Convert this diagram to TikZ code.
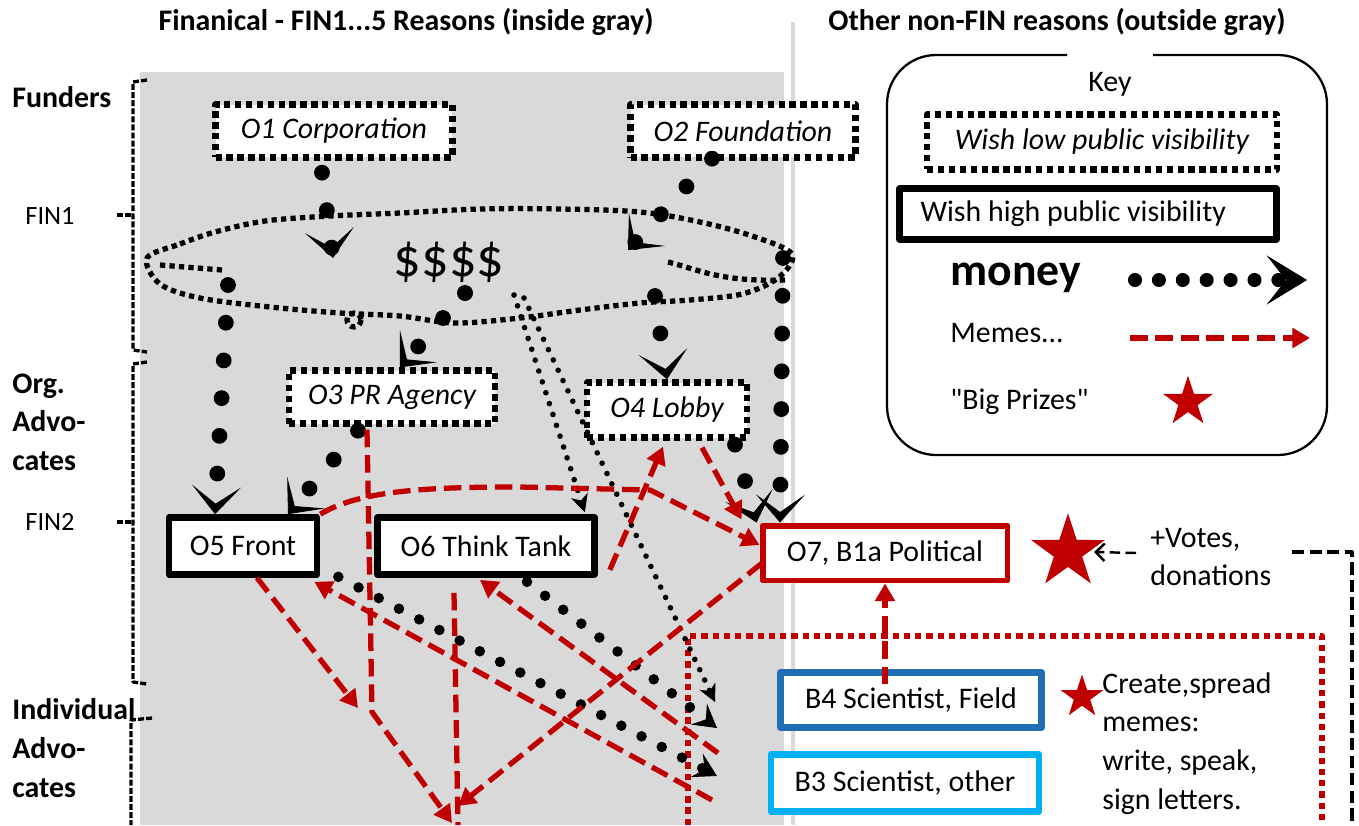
\documentclass[tikz,border=0pt]{standalone}
\usepackage{fontspec}
\setmainfont{Carlito}[Ligatures=TeXOff]
\usetikzlibrary{arrows.meta,shapes.geometric}

\definecolor{memered}{RGB}{192,0,0}
\definecolor{fieldblue}{RGB}{31,110,180}
\definecolor{otherblue}{RGB}{0,176,240}
\definecolor{fingray}{RGB}{217,217,217}
\newcommand{\diagfont}{\fontsize{17}{22}\selectfont}

\begin{document}
\begin{tikzpicture}[
        x=0.02cm, y=-0.02cm,
        line join=round,
        font=\diagfont,
        lowvis/.style = {draw, line width=3.6pt, dash pattern=on 3.6pt off 2.6pt, fill=white, font=\diagfont\itshape, minimum height=1.06cm},
        highvis/.style = {draw, line width=3.8pt, fill=white, minimum height=1.14cm},
        polbox/.style = {draw=memered, line width=3.4pt, fill=white, minimum height=1.1cm},
        scibox/.style = {draw=#1, line width=3.8pt, fill=white, minimum height=1.1cm},
        money/.style = {line width=9pt, line cap=round, dash pattern=on 0pt off 21.5pt, -{Stealth[length=16pt, width=28pt, inset=10pt, line width=0.5pt]}},
        cash/.style = {line width=6pt, line cap=round, dash pattern=on 0pt off 13pt, -{Stealth[length=13pt, width=15pt, inset=5pt, line width=0.5pt]}},
        coins/.style = {line width=3.2pt, line cap=round, dash pattern=on 0pt off 6.5pt, -{Stealth[length=10pt, width=10pt, inset=3pt, line width=0.5pt]}},
        meme/.style = {memered, line width=3pt, dash pattern=on 10pt off 4.5pt, -{Triangle[length=10pt, width=11pt]}},
        cloudline/.style = {line width=3pt, dash pattern=on 3pt off 2.4pt},
        bracketline/.style = {line width=1.9pt, dash pattern=on 3.4pt off 1.2pt},
        prize/.style = {star, star points=5, star point ratio=2.6, fill=memered, inner sep=0pt, minimum size=#1}
    ]

    \fill[white] (0,0) rectangle (1359,825);
    \useasboundingbox (0,0) rectangle (1359,825);
    \fill[fingray] (140,72) rectangle (784,825);
    \draw[fingray, line width=2.6pt] (793,22) -- (793,825);

    % headings
    \node[font=\diagfont\bfseries] (finhead) at (406,22) {Finanical - FIN1...5 Reasons (inside gray)};
    \node[font=\diagfont\bfseries] (otherhead) at (1057,22) {Other non-FIN reasons (outside gray)};

    % left side labels and brackets
    \node[font=\diagfont\bfseries, anchor=west, inner sep=0pt] (funders) at (12,97) {Funders};
    \node[font=\diagfont\bfseries, anchor=west, align=left, inner sep=0pt] (orgadv) at (12,422) {Org.\\Advo-\\cates};
    \node[font=\diagfont\bfseries, anchor=west, align=left, inner sep=0pt] (indadv) at (12,748) {Individual\\Advo-\\cates};
    \node[font=\fontsize{15}{18}\selectfont, inner sep=0pt] (fin1) at (50,216) {FIN1};
    \node[font=\fontsize{15}{18}\selectfont, inner sep=0pt] (fin2) at (50,522) {FIN2};

    \draw[bracketline] (147,80) -- (133,82) -- (133,350) -- (147,352);
    \draw[bracketline] (117,215) -- (133,215);
    \draw[bracketline] (147,362) -- (133,364) -- (133,682) -- (147,684);
    \draw[bracketline] (117,522) -- (133,522);
    \draw[bracketline] (152,718) -- (131,720) -- (131,825);

    % the money cloud
    \draw[cloudline] plot[smooth cycle, tension=0.55] coordinates {(147,258) (180,244) (215,232) (265,221) (330,216) (400,213) (480,209) (560,209) (640,212) (700,222) (752,236) (792,254) (778,278) (742,294) (690,300) (640,303) (580,310) (520,318) (455,323) (400,316) (340,313) (270,307) (200,298) (160,284)};
    \draw[cloudline] (160,265) -- (222,270);
    \draw[cloudline] (668,262) .. controls (700,270) and (720,282) .. (785,280);
    \draw[cloudline] (354,320) circle[radius=7];
    \node[font=\fontsize{31}{36}\selectfont] (dollars) at (449,262) {\$\$\$\$};
    \fill (465,293) circle[radius=8];

    \coordinate (c1) at (333,258);
    \coordinate (c2) at (628,250);
    \coordinate (c3) at (228,285);
    \coordinate (c4) at (443,318);
    \coordinate (c5) at (655,296);
    \coordinate (c6) at (783,258);
    \coordinate (c7) at (514,295);
    \coordinate (c8) at (524,298);

    % meme field of the scientists
    \draw[memered, line width=3.6pt, dash pattern=on 3.6pt off 2.8pt] (688,825) -- (688,636) -- (1322,636) -- (1322,825);

    % organisations
    \node[lowvis, minimum width=4.74cm] (o1) at (334,131) {O1 Corporation};
    \node[lowvis, minimum width=4.5cm] (o2) at (743,131) {O2 Foundation};
    \node[lowvis, minimum width=4.12cm] (o3) at (392,397) {O3 PR Agency};
    \node[lowvis, minimum width=3.2cm, minimum height=1.1cm] (o4) at (667,410) {O4 Lobby};
    \node[highvis, minimum width=2.96cm] (o5) at (243,546) {O5 Front};
    \node[highvis, minimum width=4.34cm] (o6) at (486,546) {O6 Think Tank};
    \node[polbox, minimum width=4.9cm] (o7) at (885,553) {O7, B1a Political};
    \node[scibox=fieldblue, minimum width=5.22cm] (b4) at (911,700) {B4 Scientist, Field};
    \node[scibox=otherblue, minimum width=5.36cm, minimum height=1.14cm] (b3) at (905,783) {B3 Scientist, other};

    \coordinate (b3gap) at (717,776);
    \coordinate (b4gap) at (717,728);
    \coordinate (b4top) at (715,702);
    \coordinate (lowA) at (458,806);
    \coordinate (bendB) at (372,712);
    \coordinate (lowB) at (452,823);
    \coordinate (lowC) at (458,825);
    \coordinate (frontdrop) at (358,708);
    \coordinate (b3left) at (712,800);
    \coordinate (b4left) at (718,753);

    % money
    \draw[money] (o1.south) ++(-12,12) -- (c1);
    \draw[money] (o2.south) ++(-31,-2) -- (c2);
    \draw[money] (c3) -- ([xshift=-0.56cm]o5.north);
    \draw[money] (c4) -- ([xshift=0.16cm]o3.north);
    \draw[money] (c5) -- (o4.north);
    \draw[money] (c6) -- ([xshift=-2.1cm]o7.north);
    \draw[money] (o4.south) ++(68,4) -- ([xshift=-0.06cm]o7.north west);
    \draw[money] (o3.south) ++(-34,4) -- ([xshift=0.9cm]o5.north);
    \draw[cash] (o5.south east) ++(18,-1) -- (b3gap);
    \draw[cash] (o6.south) ++(41,4) -- (b4gap);
    \draw[coins] (c7) -- ([xshift=-0.26cm, yshift=0.04cm]o6.north east);
    \draw[coins] (c8) -- (b4top);

    % memes
    \draw[meme] (o5.north east) .. controls (360,490) and (430,487) .. (520,487) -- (650,490) -- ([yshift=0.16cm]o7.west);
    \draw[meme] (o4.south) ++(35,7) -- ([xshift=-0.36cm, yshift=0.06cm]o7.north west);
    \draw[meme] (o6.south east) ++(12,-8) -- ([xshift=-0.08cm, yshift=-0.12cm]o4.south);
    \draw[meme] (o7.south west) ++(2,-20) -- (lowA);
    \draw[meme] (o3.south) ++(-25,3) -- (bendB) -- (lowB);
    \draw[meme, -] (o6.south) ++(-32,15) -- (lowC);
    \draw[meme] (o5.south) ++(14,0) -- (frontdrop);
    \draw[meme] (b3left) -- ([xshift=-0.12cm, yshift=-0.08cm]o5.south east);
    \draw[meme] (b4left) -- ([xshift=-0.12cm, yshift=-0.04cm]o6.south);
    \draw[meme] (b4.north) ++(-26,15) -- (o7.south);

    % prizes and feedback
    \node[prize=1.55cm] (bigprize) at (1068,552) {};
    \node[anchor=west, align=left, inner sep=0pt] (votes) at (1150,557) {+Votes,\\donations};
    \draw[-{Straight Barb[length=5pt, width=10pt]}, line width=1.4pt, dash pattern=on 6pt off 3pt] (votes.west) ++(-14,-4) -- ([xshift=0.1cm]bigprize.east);
    \draw[line width=1.8pt, dash pattern=on 7pt off 3pt] (1292,552) -- (1352,552) -- (1352,825);
    \node[prize=0.9cm] (smallprize) at (1082,697) {};
    \node[anchor=north west, align=left, inner sep=0pt] (spread) at (1102,672) {Create,spread\\memes:\\write, speak,\\sign letters.};

    % key
    \draw[line width=1.3pt, rounded corners=28pt] (1067,55) -- (887,55) -- (887,455) -- (1327,455) -- (1327,55) -- (1153,55);
    \node (keytitle) at (1110,84) {Key};
    \node[lowvis, minimum width=7cm, minimum height=1.1cm] (keylow) at (1102,142) {Wish low public visibility};
    \node[highvis, text width=6.7cm, align=flush left, inner xsep=0.42cm, minimum height=1.02cm] (keyhigh) at (1088,214) {Wish high public visibility};
    \node[font=\fontsize{26}{30}\selectfont\bfseries, anchor=west, inner sep=0pt] (moneylbl) at (950,278) {money};
    \coordinate (moneyA) at (1135,280);
    \coordinate (moneyB) at (1307,280);
    \draw[money, line width=8pt, dash pattern=on 0pt off 13.6pt, -{Stealth[length=23pt, width=28pt, inset=11pt, line width=0.5pt]}] (moneyA) -- (moneyB);
    \node[anchor=west, inner sep=0pt] (memelbl) at (950,333) {Memes...};
    \coordinate (memeA) at (1130,338);
    \coordinate (memeB) at (1310,338);
    \draw[meme] (memeA) -- (memeB);
    \node[anchor=west, inner sep=0pt] (prizelbl) at (950,402) {"Big Prizes"};
    \node[prize=1.05cm] (keyprize) at (1188,402) {};

\end{tikzpicture}
\end{document}
